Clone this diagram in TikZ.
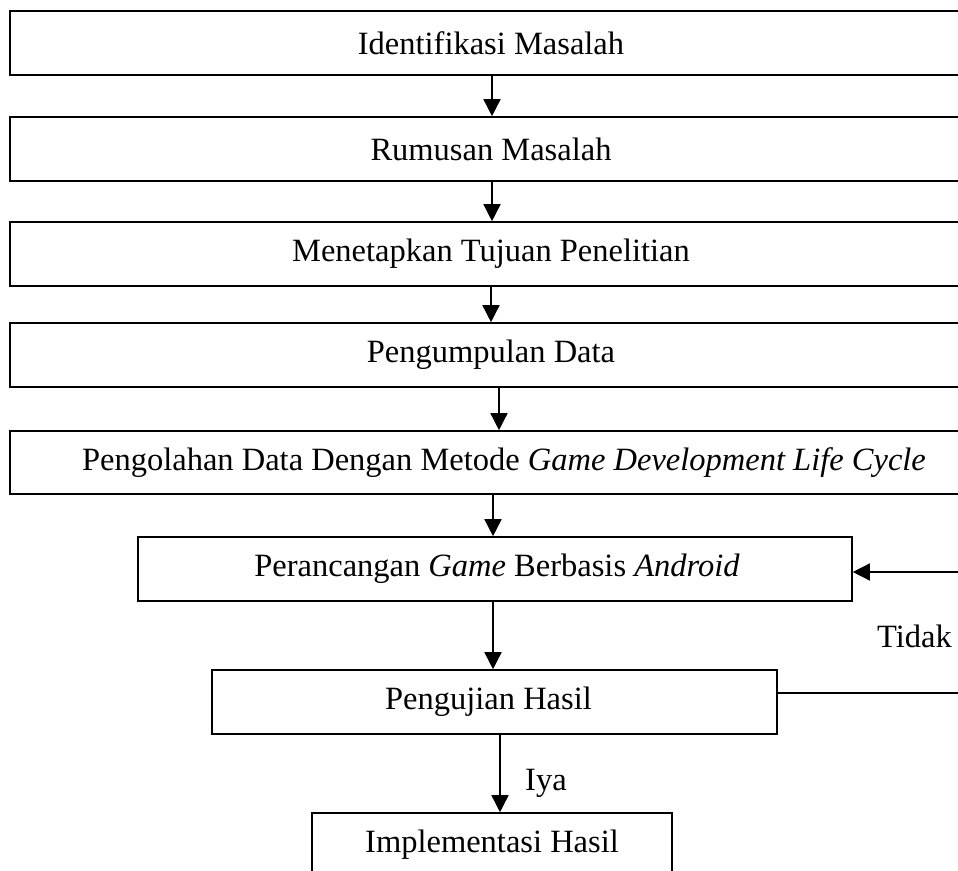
\documentclass[tikz,border=0pt]{standalone}
\usepackage{fontspec}
\setmainfont{Liberation Serif}
\usetikzlibrary{arrows.meta}
\begin{document}
\begin{tikzpicture}[x=1pt,y=-1pt,
  box/.style={draw,line width=1.6pt,rectangle,inner sep=0pt,
    font=\fontsize{32.5}{39}\selectfont},
  wide/.style={box,minimum width=962pt,minimum height=64pt},
  lbl/.style={inner sep=0pt,font=\fontsize{32.5}{39}\selectfont},
  arr/.style={line width=1.5pt,-{Triangle[length=17pt,width=17pt]}},
  ln/.style={line width=1.5pt}]
\clip (0,0) rectangle (958,870);
\fill[white] (0,0) rectangle (958,870);

% main sequence of steps
\node[wide] (b1) at (491,43) {Identifikasi Masalah};
\node[wide] (b2) at (491,149) {Rumusan Masalah};
\node[wide] (b3) at (491,254) {Menetapkan Tujuan Penelitian};
\node[wide] (b4) at (491,355) {Pengumpulan Data};
\node[wide,minimum height=63pt] (b5) at (491,462.5)
  {\hspace*{26pt}Pengolahan Data Dengan Metode \textit{Game Development Life Cycle}};
\node[box,minimum width=714pt,minimum height=64pt] (b6) at (495,569)
  {\hspace*{4pt}Perancangan \textit{Game} Berbasis \textit{Android}};
\node[box,minimum width=565pt,minimum height=64pt] (b7) at (494.5,702)
  {Pengujian Hasil\hspace*{12pt}};
\node[box,minimum width=360pt,minimum height=64pt] (b8) at (492,845)
  {Implementasi Hasil};

% arrows between steps
\draw[arr] ([xshift=1pt]b1.south) -- ([xshift=1pt]b2.north);
\draw[arr] ([xshift=1pt]b2.south) -- ([xshift=1pt]b3.north);
\draw[arr] ([xshift=0pt]b3.south) -- ([xshift=0pt]b4.north);
\draw[arr] ([xshift=8pt]b4.south) -- ([xshift=8pt]b5.north);
\draw[arr] ([xshift=2pt]b5.south) -- ([xshift=-2pt]b6.north);
\draw[arr] ([xshift=-2pt]b6.south) -- ([xshift=-1.5pt]b7.north);
\draw[arr] ([xshift=5.5pt]b7.south) -- ([xshift=8pt]b8.north);

% feedback loop when the test fails
\coordinate (r1) at (976,693);
\coordinate (r2) at (976,572);
\draw[ln] ([yshift=9pt]b7.east) -- (r1) -- (r2);
\draw[arr] (r2) -- ([yshift=-3pt]b6.east);

% branch labels
\node[lbl,anchor=base west] (tidak) at (877,647) {Tidak};
\node[lbl,anchor=base west] (iya) at (525,790) {Iya};
\end{tikzpicture}
\end{document}
